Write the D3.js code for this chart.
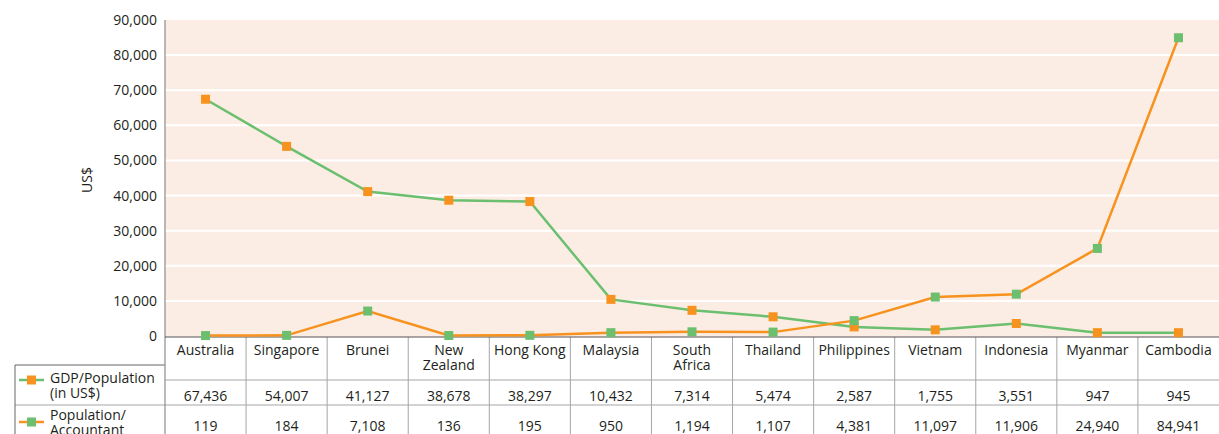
<!DOCTYPE html>
<html>
<head>
<meta charset="utf-8">
<script src="https://cdn.jsdelivr.net/npm/d3@7"></script>
<style>
  body { margin: 0; background: #fff; }
  text { font-family: "Open Sans", "Noto Sans", sans-serif; fill: #231f20; }
</style>
</head>
<body>
<div id="wrapper"></div>
<script>
const categories = ["Australia", "Singapore", "Brunei", "New Zealand", "Hong Kong", "Malaysia",
  "South Africa", "Thailand", "Philippines", "Vietnam", "Indonesia", "Myanmar", "Cambodia"];
const categoryLabels = [["Australia"], ["Singapore"], ["Brunei"], ["New", "Zealand"], ["Hong Kong"],
  ["Malaysia"], ["South", "Africa"], ["Thailand"], ["Philippines"], ["Vietnam"], ["Indonesia"],
  ["Myanmar"], ["Cambodia"]];
const gdpPerPopulation = [67436, 54007, 41127, 38678, 38297, 10432, 7314, 5474, 2587, 1755, 3551, 947, 945];
const populationPerAccountant = [119, 184, 7108, 136, 195, 950, 1194, 1107, 4381, 11097, 11906, 24940, 84941];
const yTicks = [0, 10000, 20000, 30000, 40000, 50000, 60000, 70000, 80000, 90000];
const seriesNames = [["GDP/Population", "(in US$)"], ["Population/", "Accountant"]];

const green = "#6bbf6e";
const orange = "#f7921e";

const dimensions = {
  width: 1219,
  height: 434,
  plotLeft: 165,
  plotRight: 1219,
  plotTop: 20,
  plotBottom: 337,
};

const svg = d3.select("#wrapper")
  .append("svg")
  .attr("width", dimensions.width)
  .attr("height", dimensions.height);

const xScale = d3.scaleBand()
  .domain(categories)
  .range([dimensions.plotLeft, dimensions.plotRight]);

const yScale = d3.scaleLinear()
  .domain([0, 90000])
  .range([dimensions.plotBottom - 1, dimensions.plotTop]);

// plot background
svg.append("rect")
  .attr("x", dimensions.plotLeft)
  .attr("y", dimensions.plotTop)
  .attr("width", dimensions.plotRight - dimensions.plotLeft)
  .attr("height", dimensions.plotBottom - dimensions.plotTop)
  .attr("fill", "#fbede4");

// gridlines
svg.append("g")
  .selectAll("line")
  .data(yTicks.filter((d) => d > 0 && d < 90000))
  .join("line")
  .attr("x1", dimensions.plotLeft)
  .attr("x2", dimensions.plotRight)
  .attr("y1", (d) => yScale(d))
  .attr("y2", (d) => yScale(d))
  .attr("stroke", "#fff")
  .attr("stroke-width", 2);

// y axis
const yAxis = svg.append("g")
  .attr("transform", `translate(${dimensions.plotLeft},0)`)
  .call(d3.axisLeft(yScale).tickValues(yTicks).tickSize(0).tickPadding(8).tickFormat(d3.format(",")));
yAxis.select(".domain").remove();
yAxis.selectAll("text")
  .style("font-size", "14px")
  .style("font-family", "'Open Sans', sans-serif")
  .attr("fill", "#231f20");

svg.append("text")
  .attr("transform", `translate(92,180) rotate(-90)`)
  .attr("text-anchor", "middle")
  .style("font-size", "14px")
  .text("US$");

// table
const tableTop = dimensions.plotBottom;
const row1 = 380;
const row2 = 405;
const legendTop = 365;
const legendLeft = 15;
const border = "#a6a6a6";

const table = svg.append("g");
table.selectAll("line.col")
  .data(categories.slice(1))
  .join("line")
  .attr("class", "col")
  .attr("x1", (d) => xScale(d))
  .attr("x2", (d) => xScale(d))
  .attr("y1", tableTop)
  .attr("y2", dimensions.height)
  .attr("stroke", border);

table.append("line")
  .attr("x1", dimensions.plotLeft).attr("x2", dimensions.plotRight)
  .attr("y1", row1).attr("y2", row1).attr("stroke", border);
table.append("line")
  .attr("x1", legendLeft).attr("x2", dimensions.plotRight)
  .attr("y1", row2).attr("y2", row2).attr("stroke", border);
table.append("line")
  .attr("x1", legendLeft).attr("x2", dimensions.plotLeft)
  .attr("y1", legendTop).attr("y2", legendTop).attr("stroke", "#666");
table.append("line")
  .attr("x1", legendLeft).attr("x2", legendLeft)
  .attr("y1", legendTop).attr("y2", dimensions.height).attr("stroke", "#666");

// axis lines
svg.append("line")
  .attr("x1", dimensions.plotLeft).attr("x2", dimensions.plotLeft)
  .attr("y1", dimensions.plotTop).attr("y2", dimensions.height)
  .attr("stroke", "#8c8c8c").attr("stroke-width", 1.2);
svg.append("line")
  .attr("x1", dimensions.plotLeft).attr("x2", dimensions.plotRight)
  .attr("y1", dimensions.plotBottom).attr("y2", dimensions.plotBottom)
  .attr("stroke", "#555").attr("stroke-width", 1.2);

// category labels
const catText = table.selectAll("text.cat")
  .data(categories)
  .join("text")
  .attr("class", "cat")
  .attr("x", (d) => xScale(d) + xScale.bandwidth() / 2)
  .attr("y", 355)
  .attr("text-anchor", "middle")
  .style("font-size", "14px");
catText.selectAll("tspan")
  .data((d, i) => categoryLabels[i])
  .join("tspan")
  .attr("x", function () { return d3.select(this.parentNode).attr("x"); })
  .attr("dy", (d, i) => (i === 0 ? 0 : 15))
  .text((d) => d);

// value rows
[gdpPerPopulation, populationPerAccountant].forEach((values, r) => {
  table.selectAll(`text.val${r}`)
    .data(values)
    .join("text")
    .attr("class", `val${r}`)
    .attr("x", (d, i) => xScale(categories[i]) + xScale.bandwidth() / 2)
    .attr("y", r === 0 ? 401 : 431)
    .attr("text-anchor", "middle")
    .style("font-size", "14px")
    .text((d) => d3.format(",")(d));
});

// lines
const lineGenerator = d3.line()
  .x((d, i) => xScale(categories[i]) + xScale.bandwidth() / 2)
  .y((d) => yScale(d));

const series = [
  { values: gdpPerPopulation, line: green, marker: orange },
  { values: populationPerAccountant, line: orange, marker: green },
];

series.forEach((s) => {
  svg.append("path")
    .attr("d", lineGenerator(s.values))
    .attr("fill", "none")
    .attr("stroke", s.line)
    .attr("stroke-width", 2.5);
});
series.forEach((s) => {
  svg.append("g")
    .selectAll("rect")
    .data(s.values)
    .join("rect")
    .attr("x", (d, i) => xScale(categories[i]) + xScale.bandwidth() / 2 - 4.5)
    .attr("y", (d) => yScale(d) - 4.5)
    .attr("width", 9)
    .attr("height", 9)
    .attr("fill", s.marker);
});

// legend inside table
series.forEach((s, i) => {
  const cy = i === 0 ? 380 : 422;
  const g = svg.append("g");
  g.append("line")
    .attr("x1", 19).attr("x2", 44)
    .attr("y1", cy).attr("y2", cy)
    .attr("stroke", s.line).attr("stroke-width", 2.5);
  g.append("rect")
    .attr("x", 27).attr("y", cy - 4.5)
    .attr("width", 9).attr("height", 9)
    .attr("fill", s.marker);
  const t = g.append("text")
    .attr("x", 50)
    .attr("y", i === 0 ? 383 : 420)
    .style("font-size", "14px");
  t.selectAll("tspan")
    .data(seriesNames[i])
    .join("tspan")
    .attr("x", 50)
    .attr("dy", (d, j) => (j === 0 ? 0 : 15))
    .text((d) => d);
});
</script>
</body>
</html>
